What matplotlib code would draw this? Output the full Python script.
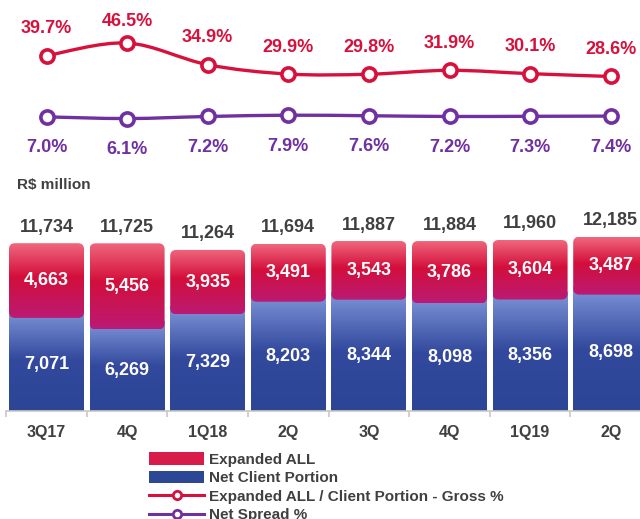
import matplotlib
matplotlib.use("Agg")
import matplotlib.pyplot as plt
import numpy as np
from matplotlib.colors import LinearSegmentedColormap
from matplotlib.lines import Line2D
from matplotlib.patches import FancyBboxPatch, Patch, PathPatch
from matplotlib.path import Path

plt.rcParams["font.family"] = ["Liberation Sans", "DejaVu Sans"]
plt.rcParams["font.weight"] = "bold"

QUARTERS = ["3Q17", "4Q", "1Q18", "2Q", "3Q", "4Q", "1Q19", "2Q"]
NET_CLIENT = [7071, 6269, 7329, 8203, 8344, 8098, 8356, 8698]
EXPANDED_ALL = [4663, 5456, 3935, 3491, 3543, 3786, 3604, 3487]
TOTALS = [11734, 11725, 11264, 11694, 11887, 11884, 11960, 12185]
GROSS_PCT = [39.7, 46.5, 34.9, 29.9, 29.8, 31.9, 30.1, 28.6]
NET_SPREAD_PCT = [7.0, 6.1, 7.2, 7.9, 7.6, 7.2, 7.3, 7.4]

RED = "#d7103c"
PURPLE = "#7030a0"
GREY_TXT = "#404040"

W, H = 640, 519
fig = plt.figure(figsize=(W / 100, H / 100), dpi=100)


def px_axes(left, top, width, height):
    return fig.add_axes([left / W, 1 - (top + height) / H, width / W, height / H])


x = np.arange(len(QUARTERS))
STEP = 80.6
XLIM = (-46.5 / STEP, (W - 46.5) / STEP)

# --- bars -----------------------------------------------------------------
BAR_TOP, BAR_H = 190, 221
ax = px_axes(0, BAR_TOP, W, BAR_H)
ax.patch.set_alpha(0)
for s in ["top", "left", "right"]:
    ax.spines[s].set_visible(False)
ax.spines["bottom"].set_color("#c8c8c8")
ax.spines["bottom"].set_linewidth(1.2)
ax.set_yticks([])
ax.set_xticks(x, QUARTERS)
ax.set_xticks(np.arange(-0.5, len(x), 1), minor=True)
ax.tick_params(axis="x", which="major", length=0, pad=10, labelsize=11.5,
               labelcolor=GREY_TXT)
ax.tick_params(axis="x", which="minor", length=4, width=1.2, color="#c8c8c8")
ax.set_xlim(*XLIM)
ax.set_ylim(0, BAR_H / 0.0143)
ax.spines["bottom"].set_bounds(-0.5, XLIM[1])
ux = (XLIM[1] - XLIM[0]) / W          # data units per pixel, x
uy = ax.get_ylim()[1] / BAR_H         # data units per pixel, y

red_cmap = LinearSegmentedColormap.from_list(
    "red", [(0, "#f0687e"), (0.45, "#d30f3b"), (1, "#bb1a74")])
blue_cmap = LinearSegmentedColormap.from_list(
    "blue", [(0, "#7f95d9"), (0.5, "#32499d"), (1, "#2c4595")])
grad = np.linspace(0, 1, 256).reshape(-1, 1)

width = 75 / STEP
blue_bars = ax.bar(x, NET_CLIENT, width=width, color="#2c4595", zorder=2)
red_bars = ax.bar(x, EXPANDED_ALL, bottom=NET_CLIENT, width=width, color=RED, zorder=3)

overlap = 8 * uy
for b in blue_bars:
    x0, y0, w, h = b.get_x(), b.get_y(), b.get_width(), b.get_height()
    im = ax.imshow(grad, cmap=blue_cmap, extent=(x0, x0 + w, y0, y0 + h),
                   origin="upper", aspect="auto", zorder=2.5)
    im.set_clip_path(b)

for b in red_bars:
    b.set_visible(False)
    x0, y0, w, h = b.get_x(), b.get_y() - overlap, b.get_width(), b.get_height() + overlap
    r = 6 * ux
    box = FancyBboxPatch((x0, y0), w, h, boxstyle=f"round,pad=0,rounding_size={r}",
                         mutation_aspect=uy / ux, facecolor="none", edgecolor="none",
                         zorder=3)
    ax.add_patch(box)
    im = ax.imshow(grad, cmap=red_cmap, extent=(x0, x0 + w, y0, y0 + h),
                   origin="upper", aspect="auto", zorder=3.5)
    im.set_clip_path(box)

ax.set_xlim(*XLIM)
ax.set_ylim(0, BAR_H / 0.0143)

for i in range(len(x)):
    blue_top = NET_CLIENT[i] - overlap
    ax.text(x[i], blue_top / 2, f"{NET_CLIENT[i]:,}", ha="center", va="center",
            color="white", fontsize=13, zorder=5)
    ax.text(x[i], (blue_top + TOTALS[i]) / 2, f"{EXPANDED_ALL[i]:,}", ha="center",
            va="center", color="white", fontsize=13, zorder=5)
    ax.annotate(f"{TOTALS[i]:,}", (x[i], TOTALS[i]), xytext=(0, 16),
                textcoords="offset pixels", ha="center", va="center",
                color=GREY_TXT, fontsize=13, annotation_clip=False)

fig.text(17 / W, 1 - 185 / H, "R$ million", ha="left", va="center",
         color=GREY_TXT, fontsize=11)

# --- lines ----------------------------------------------------------------
LINE_H = 150
lx = px_axes(0, 0, W, LINE_H)
lx.set_xlim(*XLIM)
lx.set_ylim(46.5 - 107 / 1.87, 46.5 + 43 / 1.87)
lx.axis("off")


def smooth_path(xs, ys):
    pts = np.column_stack([xs, ys]).astype(float)
    ext = np.vstack([pts[0], pts, pts[-1]])
    verts = [pts[0]]
    codes = [Path.MOVETO]
    for i in range(len(pts) - 1):
        p0, p1, p2, p3 = ext[i], ext[i + 1], ext[i + 2], ext[i + 3]
        verts += [p1 + (p2 - p0) / 6, p2 - (p3 - p1) / 6, p2]
        codes += [Path.CURVE4] * 3
    return Path(verts, codes)


fig.canvas.draw()
for vals, col, dy in [(GROSS_PCT, RED, 27), (NET_SPREAD_PCT, PURPLE, -31)]:
    lx.add_patch(PathPatch(smooth_path(x, vals), facecolor="none", edgecolor=col,
                           lw=2.4, capstyle="round"))
    lx.plot(x, vals, "o", mfc="white", mec=col, ms=9.5, mew=2.6, ls="none", zorder=4)
    for xi, v in zip(x, vals):
        # keep labels from crowding the top edge
        pt_from_top = H - lx.transData.transform((xi, v))[1]
        off = min(dy, pt_from_top - 22) if dy > 0 else dy
        lx.annotate(f"{v:.1f}%", (xi, v), xytext=(0, off), textcoords="offset pixels",
                    ha="center", va="center", color=col, fontsize=13,
                    annotation_clip=False)

# --- legend ---------------------------------------------------------------
handles = [
    Patch(facecolor="#d81c4a"),
    Patch(facecolor="#2d4797"),
    Line2D([], [], color=RED, lw=2.2, marker="o", mfc="white", mec=RED, ms=6, mew=2),
    Line2D([], [], color=PURPLE, lw=2.2, marker="o", mfc="white", mec=PURPLE, ms=6, mew=2),
]
labels = ["Expanded ALL", "Net Client Portion",
          "Expanded ALL / Client Portion - Gross %", "Net Spread %"]
leg = fig.legend(handles, labels, loc="upper left", bbox_to_anchor=(149 / W, 1 - 452 / H),
                 frameon=False, borderpad=0, borderaxespad=0, handlelength=3.6,
                 handleheight=0.9, handletextpad=0.3, labelspacing=0.26,
                 prop={"size": 11, "weight": "bold"})
for t in leg.get_texts():
    t.set_color(GREY_TXT)

fig.savefig("out.png", dpi=100)
